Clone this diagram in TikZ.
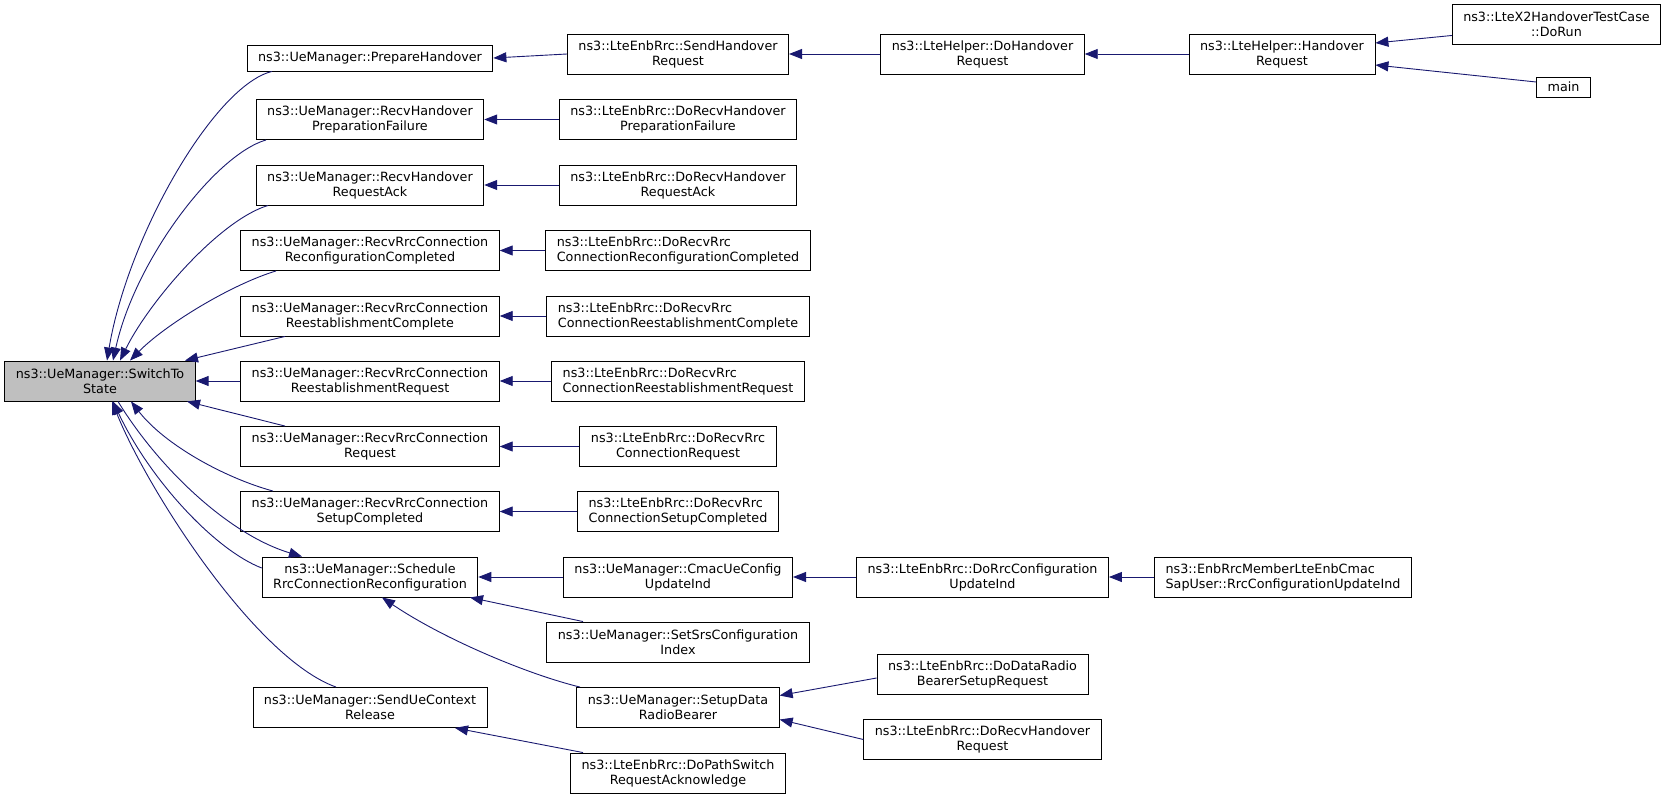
\documentclass[tikz,border=0pt]{standalone}
\usepackage{fontspec}
\setmainfont{DejaVu Sans}
\usetikzlibrary{arrows.meta,calc}
\definecolor{edgeblue}{HTML}{191970}
\definecolor{nodegray}{HTML}{BFBFBF}
\begin{document}
\begin{tikzpicture}[x=1pt,y=-1pt,
  box/.style={draw=black,line width=0.9pt,fill=white,rectangle,inner xsep=11pt,inner ysep=0pt,
    minimum height=40pt,align=center,font=\fontsize{12.75}{15}\selectfont},
  lbox/.style={box,align=left},
  edge/.style={draw=edgeblue,line width=0.9pt,-{Triangle[length=13pt,width=10pt]}}]
\useasboundingbox (0,0) rectangle (1672,799);
% column 0
\node[box,fill=nodegray] (st) at (100,381) {ns3::UeManager::SwitchTo\\State};
% column 1
\node[box,minimum height=26pt] (ph) at (370,58) {ns3::UeManager::PrepareHandover};
\node[box] (pf) at (370,119.5) {ns3::UeManager::RecvHandover\\PreparationFailure};
\node[box] (ra) at (370,185) {ns3::UeManager::RecvHandover\\RequestAck};
\node[box] (rc) at (370,250.5) {ns3::UeManager::RecvRrcConnection\\ReconfigurationCompleted};
\node[box] (rec) at (370,316) {ns3::UeManager::RecvRrcConnection\\ReestablishmentComplete};
\node[box] (rer) at (370,381) {ns3::UeManager::RecvRrcConnection\\ReestablishmentRequest};
\node[box] (rr) at (370,446.5) {ns3::UeManager::RecvRrcConnection\\Request};
\node[box] (rsc) at (370,511.5) {ns3::UeManager::RecvRrcConnection\\SetupCompleted};
\node[box] (sch) at (370,577) {ns3::UeManager::Schedule\\RrcConnectionReconfiguration};
\node[box] (suc) at (370,707.5) {ns3::UeManager::SendUeContext\\Release};
% column 2
\node[box] (sh) at (678,54) {ns3::LteEnbRrc::SendHandover\\Request};
\node[box] (dpf) at (678,119.5) {ns3::LteEnbRrc::DoRecvHandover\\PreparationFailure};
\node[box] (dra) at (678,185) {ns3::LteEnbRrc::DoRecvHandover\\RequestAck};
\node[lbox] (drc) at (678,250.5) {ns3::LteEnbRrc::DoRecvRrc\\ConnectionReconfigurationCompleted};
\node[lbox] (drec) at (678,316) {ns3::LteEnbRrc::DoRecvRrc\\ConnectionReestablishmentComplete};
\node[lbox] (drer) at (678,381) {ns3::LteEnbRrc::DoRecvRrc\\ConnectionReestablishmentRequest};
\node[box] (drr) at (678,446.5) {ns3::LteEnbRrc::DoRecvRrc\\ConnectionRequest};
\node[lbox] (drsc) at (678,511.5) {ns3::LteEnbRrc::DoRecvRrc\\ConnectionSetupCompleted};
\node[box] (cmac) at (678,577) {ns3::UeManager::CmacUeConfig\\UpdateInd};
\node[box] (srs) at (678,642) {ns3::UeManager::SetSrsConfiguration\\Index};
\node[box] (sdr) at (678,707.5) {ns3::UeManager::SetupData\\RadioBearer};
\node[box] (dps) at (678,773) {ns3::LteEnbRrc::DoPathSwitch\\RequestAcknowledge};
% column 3
\node[box] (dh) at (982.5,54) {ns3::LteHelper::DoHandover\\Request};
\node[box] (drcu) at (982.5,577) {ns3::LteEnbRrc::DoRrcConfiguration\\UpdateInd};
\node[box] (ddr) at (982.5,674) {ns3::LteEnbRrc::DoDataRadio\\BearerSetupRequest};
\node[box] (drh) at (982.5,739.5) {ns3::LteEnbRrc::DoRecvHandover\\Request};
% column 4
\node[box] (hr) at (1282,54) {ns3::LteHelper::Handover\\Request};
\node[lbox] (enb) at (1283,577) {ns3::EnbRrcMemberLteEnbCmac\\SapUser::RrcConfigurationUpdateInd};
% column 5
\node[box] (dr) at (1556.5,24.5) {ns3::LteX2HandoverTestCase\\::DoRun};
\node[box,minimum height=20pt] (mn) at (1563.5,87) {main};

% edges into SwitchTo
\draw[edge] ($(ph.south)+(-98,0)$) .. controls (215,85) and (128,235) .. ($(st.north)+(7,0)$);
\draw[edge] ($(pf.south)+(-104,0)$) .. controls (215,155) and (135,260) .. ($(st.north)+(13,0)$);
\draw[edge] ($(ra.south)+(-102,0)$) .. controls (220,220) and (150,300) .. ($(st.north)+(20,0)$);
\draw[edge] ($(rc.south)+(-94,0)$) .. controls (230,285) and (165,325) .. ($(st.north)+(30,0)$);
\draw[edge] ($(rec.south)+(-85,0)$) -- ($(st.north)+(85,0)$);
\draw[edge] (rer.west) -- (st.east);
\draw[edge] ($(rr.north)+(-85,0)$) -- ($(st.south)+(87,0)$);
\draw[edge] ($(rsc.north)+(-97,0)$) .. controls (225,478) and (165,445) .. ($(st.south)+(31,0)$);
\draw[edge] ($(st.south)+(18,0)$) .. controls (160,470) and (230,535) .. ($(sch.north)+(-68,0)$);
\draw[edge] ($(sch.west)+(0,-9)$) .. controls (215,550) and (150,480) .. ($(st.south)+(13,0)$);
\draw[edge] ($(suc.north)+(-34,0)$) .. controls (255,658) and (147,489) .. ($(st.south)+(12,0)$);

% top chain
\draw[edge] (sh.west) -- (ph.east);
\draw[edge] (dh.west) -- (sh.east);
\draw[edge] (hr.west) -- (dh.east);
\draw[edge] ($(dr.west)+(0,11)$) -- ($(hr.east)+(0,-11)$);
\draw[edge] ($(mn.west)+(0,-5)$) -- ($(hr.east)+(0,11)$);

% column 2 -> column 1
\draw[edge] (dpf.west) -- (pf.east);
\draw[edge] (dra.west) -- (ra.east);
\draw[edge] (drc.west) -- (rc.east);
\draw[edge] (drec.west) -- (rec.east);
\draw[edge] (drer.west) -- (rer.east);
\draw[edge] (drr.west) -- (rr.east);
\draw[edge] (drsc.west) -- (rsc.east);
\draw[edge] (cmac.west) -- (sch.east);
\draw[edge] ($(srs.north)+(-95,0)$) -- ($(sch.south)+(100,0)$);
\draw[edge] ($(sdr.north)+(-98,0)$) .. controls (530,675) and (445,640) .. ($(sch.south)+(12,0)$);
\draw[edge] ($(dps.north)+(-95,0)$) -- ($(suc.south)+(85,0)$);

% column 3/4 -> column 2/3
\draw[edge] (drcu.west) -- (cmac.east);
\draw[edge] (enb.west) -- (drcu.east);
\draw[edge] ($(ddr.west)+(0,4)$) -- ($(sdr.east)+(0,-12)$);
\draw[edge] (drh.west) -- ($(sdr.east)+(0,12)$);
\end{tikzpicture}
\end{document}
